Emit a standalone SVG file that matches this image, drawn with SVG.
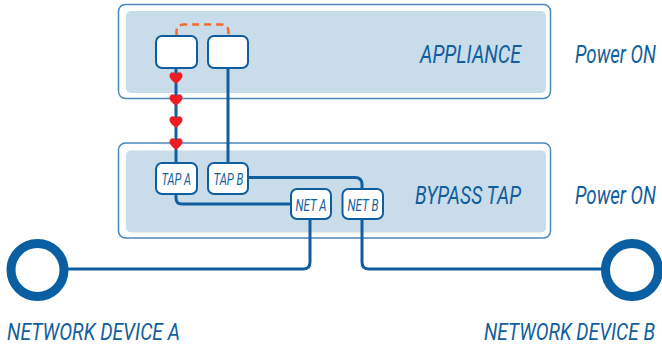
<svg xmlns="http://www.w3.org/2000/svg" width="662" height="347" viewBox="0 0 662 347">
<defs>
<style>
.outer{fill:#fff;stroke:#4a87ba;stroke-width:1.5}
.inner{fill:#c8dcea}
.box{fill:#fff;stroke:#115e9e;stroke-width:2}
.ln{fill:none;stroke:#115e9e;stroke-width:3}
.t{font-family:"Roboto","Liberation Sans",sans-serif;font-style:italic;fill:#115e9e}
.big{font-size:26px}
.pw{font-size:18.5px}
.sm{font-size:17px}
.dev{font-size:23px}
.devb{font-size:18.5px}
.heart{fill:#ee1c25}
</style>
<path id="hrt" d="M0,5.5 C-2,3.5 -6.5,0.5 -6.5,-2.5 C-6.5,-5 -5,-6.2 -3.2,-6.2 C-1.600,-6.2 -0.5,-5.2 0,-4 C0.5,-5.2 1.6,-6.2 3.2,-6.2 C5,-6.2 6.5,-5 6.5,-2.5 C6.5,0.5 2,3.5 0,5.5 Z"/>
</defs>
<g id="appliance">
<rect class="outer" x="118.5" y="4.5" width="432" height="94" rx="7"/>
<rect class="inner" x="126" y="11" width="420" height="82" rx="5"/>
<text class="t big" x="420" y="63" textLength="101" lengthAdjust="spacingAndGlyphs">APPLIANCE</text>
</g>
<g id="bypass">
<rect class="outer" x="118.5" y="143" width="432" height="95" rx="7"/>
<rect class="inner" x="126" y="150.5" width="420" height="82" rx="5"/>
<text class="t big" x="415" y="204" textLength="106" lengthAdjust="spacingAndGlyphs">BYPASS TAP</text>
</g>
<g id="power1"><text class="t pw" transform="translate(575,63) scale(1,1.4)" x="0" y="0" textLength="81" lengthAdjust="spacingAndGlyphs">Power ON</text></g>
<g id="power2"><text class="t pw" transform="translate(575,204) scale(1,1.4)" x="0" y="0" textLength="81" lengthAdjust="spacingAndGlyphs">Power ON</text></g>
<g id="connectors">
<path d="M176.5,36 V32 Q176.5,24.5 184,24.5 H221 Q228.5,24.5 228.5,32 V36" fill="none" stroke="#f26a2e" stroke-width="2.5" stroke-dasharray="7,5"/>
<path class="ln" d="M176,68 V164"/>
<path class="ln" d="M228,68 V164"/>
<path class="ln" d="M176,194 V198 Q176,204 182,204 H292"/>
<path class="ln" d="M248,177.5 H355 Q362,177.5 362,184.5 V189"/>
<path class="ln" d="M310,219 V262 Q310,269 303,269 H64"/>
<path class="ln" d="M362,219 V262 Q362,269 369,269 H606"/>
<use href="#hrt" class="heart" x="176" y="78.5"/>
<use href="#hrt" class="heart" x="176" y="100.5"/>
<use href="#hrt" class="heart" x="176" y="122.5"/>
<use href="#hrt" class="heart" x="176" y="144.5"/>
</g>
<g id="app-port1"><rect class="box" x="156" y="36" width="41" height="32" rx="6"/></g>
<g id="app-port2"><rect class="box" x="208" y="36" width="40" height="32" rx="6"/></g>
<g id="tapA"><rect class="box" x="156" y="163" width="41" height="31" rx="6"/><text class="t sm" x="161.5" y="184.5" textLength="29.5" lengthAdjust="spacingAndGlyphs">TAP A</text></g>
<g id="tapB"><rect class="box" x="208" y="163" width="40" height="31" rx="6"/><text class="t sm" x="213.5" y="184.5" textLength="30" lengthAdjust="spacingAndGlyphs">TAP B</text></g>
<g id="netA"><rect class="box" x="291" y="189" width="40" height="30" rx="6"/><text class="t sm" x="295.5" y="210.5" textLength="31" lengthAdjust="spacingAndGlyphs">NET A</text></g>
<g id="netB"><rect class="box" x="342.5" y="189" width="40.5" height="30" rx="6"/><text class="t sm" x="347.5" y="210.5" textLength="31" lengthAdjust="spacingAndGlyphs">NET B</text></g>
<g id="deviceA">
<circle cx="37.5" cy="270" r="26.5" fill="none" stroke="#0a5fa2" stroke-width="9"/>
<text class="t dev" x="7" y="340" textLength="173" lengthAdjust="spacingAndGlyphs">NETWORK DEVICE A</text>
</g>
<g id="deviceB">
<circle cx="632" cy="270" r="26.5" fill="none" stroke="#0a5fa2" stroke-width="9"/>
<text class="t devb" transform="translate(484,340) scale(1,1.24)" x="0" y="0" textLength="171" lengthAdjust="spacingAndGlyphs">NETWORK DEVICE B</text>
</g>
</svg>
